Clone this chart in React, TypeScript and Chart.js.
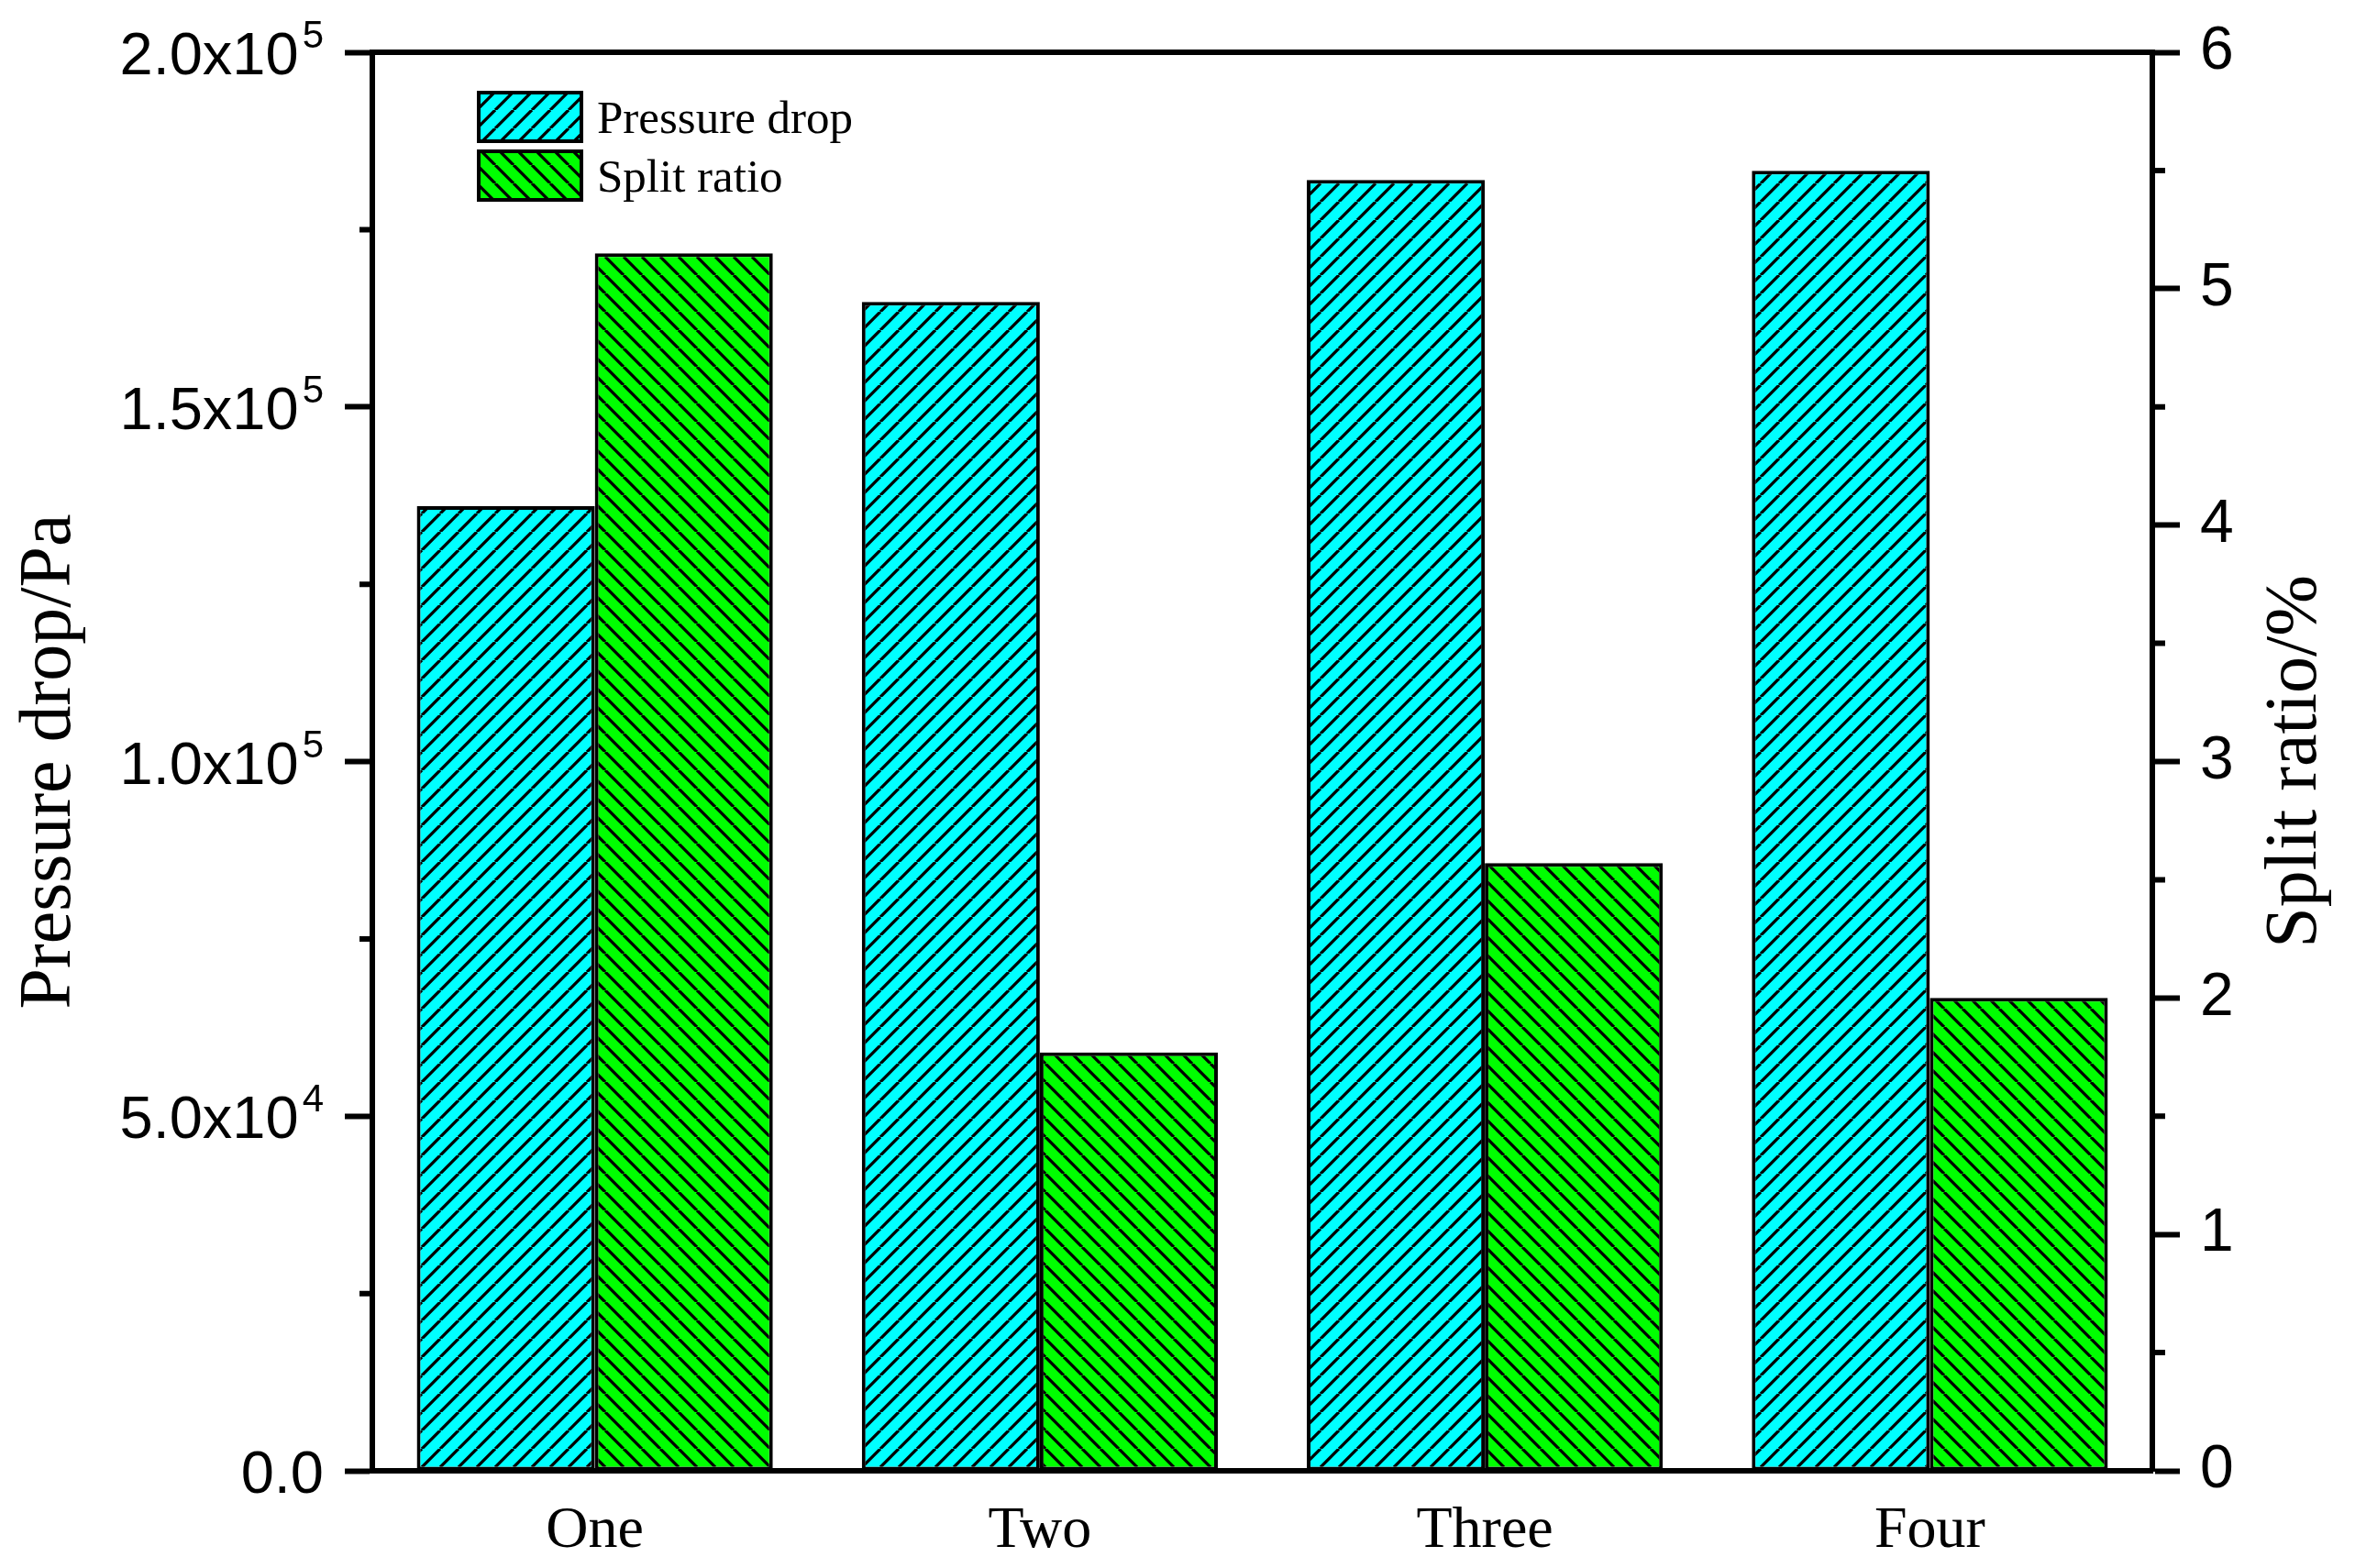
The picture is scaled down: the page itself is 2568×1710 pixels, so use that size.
import React, { useEffect, useRef } from "react";
import { Chart, registerables } from "chart.js";

Chart.register(...registerables);

const categories = ["One", "Two", "Three", "Four"];
const seriesNames = ["Pressure drop", "Split ratio"];
const pressureDrop = [136000, 164800, 182000, 183300];
const splitRatio = [5.15, 1.77, 2.57, 2.0];

const leftTickValues = [0, 50000, 100000, 150000, 200000];
const leftTickMantissa = ["0.0", "5.0", "1.0", "1.5", "2.0"];
const leftTickExponent = ["", "4", "5", "5", "5"];
const leftMinorTicks = [25000, 75000, 125000, 175000];
const rightTickLabels = ["0", "1", "2", "3", "4", "5", "6"];
const rightMinorTicks = [0.5, 1.5, 2.5, 3.5, 4.5, 5.5];
const axisTitles = ["Pressure drop/Pa", "Split ratio/%"];

const SANS = "'Liberation Sans', Arial, sans-serif";
const SERIF = "'Liberation Serif', 'Times New Roman', serif";

function makeHatch(color: string, dir: number): CanvasPattern | string {
  const s = 20;
  const c = document.createElement("canvas");
  c.width = s;
  c.height = s;
  const g = c.getContext("2d");
  if (!g) return color;
  g.fillStyle = color;
  g.fillRect(0, 0, s, s);
  g.strokeStyle = "#000";
  g.lineWidth = 3.3;
  g.beginPath();
  for (const o of [-s, 0, s]) {
    if (dir > 0) {
      g.moveTo(o, s);
      g.lineTo(o + s, 0);
    } else {
      g.moveTo(o, 0);
      g.lineTo(o + s, s);
    }
  }
  g.stroke();
  return g.createPattern(c, "repeat") || color;
}

const decorPlugin = {
  id: "decor",
  afterDraw(chart: any) {
    const ctx: CanvasRenderingContext2D = chart.ctx;
    const { left, right, top, bottom } = chart.chartArea;
    const y = chart.scales.y;
    const y1 = chart.scales.y1;
    ctx.save();
    ctx.strokeStyle = "#000";
    ctx.lineWidth = 6;
    // top frame line
    ctx.beginPath();
    ctx.moveTo(left - 3, top);
    ctx.lineTo(right + 3, top);
    ctx.stroke();
    // minor ticks
    ctx.beginPath();
    leftMinorTicks.forEach((v) => {
      const p = y.getPixelForValue(v);
      ctx.moveTo(left, p);
      ctx.lineTo(left - 14, p);
    });
    rightMinorTicks.forEach((v) => {
      const p = y1.getPixelForValue(v);
      ctx.moveTo(right, p);
      ctx.lineTo(right + 14, p);
    });
    ctx.stroke();

    // left tick labels with superscript exponents
    ctx.fillStyle = "#000";
    ctx.textBaseline = "alphabetic";
    leftTickValues.forEach((v, i) => {
      const p = y.getPixelForValue(v);
      const base = p + 24;
      const xr = left - 53;
      const exp = leftTickExponent[i];
      let expW = 0;
      ctx.font = `42px ${SANS}`;
      if (exp) expW = ctx.measureText(exp).width + 4;
      ctx.font = `65px ${SANS}`;
      ctx.textAlign = "right";
      ctx.fillText(leftTickMantissa[i] + (exp ? "x10" : ""), xr - expW, base);
      if (exp) {
        ctx.font = `42px ${SANS}`;
        ctx.textAlign = "left";
        ctx.fillText(exp, xr - expW + 4, base - 29);
      }
    });

    // axis titles (both read bottom-to-top)
    ctx.font = `80px ${SERIF}`;
    ctx.textAlign = "center";
    const cy = (top + bottom) / 2;
    ctx.save();
    ctx.translate(76, cy);
    ctx.rotate(-Math.PI / 2);
    ctx.fillText(axisTitles[0], 0, 0);
    ctx.restore();
    ctx.save();
    ctx.translate(2525, cy);
    ctx.rotate(-Math.PI / 2);
    ctx.fillText(axisTitles[1], 0, 0);
    ctx.restore();

    // legend
    chart.data.datasets.forEach((ds: any, i: number) => {
      const bx = left + 114;
      const by = top + 42 + i * 64;
      const bw = 116;
      const bh = 57;
      ctx.fillStyle = ds.backgroundColor;
      ctx.fillRect(bx, by, bw, bh);
      ctx.lineWidth = 4;
      ctx.strokeStyle = "#000";
      ctx.strokeRect(bx + 2, by + 2, bw - 4, bh - 4);
      ctx.fillStyle = "#000";
      ctx.font = `51px ${SERIF}`;
      ctx.textAlign = "left";
      ctx.fillText(ds.label, bx + 131, by + bh / 2 + 17);
    });
    ctx.restore();
  },
};

export default function App() {
  const ref = useRef<HTMLCanvasElement | null>(null);
  useEffect(() => {
    const canvas = ref.current;
    if (!canvas) return;
    const cyan = makeHatch("#00FFFF", 1);
    const green = makeHatch("#00FF00", -1);
    const axisGrid = {
      drawOnChartArea: false,
      drawTicks: true,
      tickLength: 30,
      tickWidth: 6,
      tickColor: "#000",
    };
    const border = { display: true, color: "#000", width: 6 };
    const chart = new Chart(canvas, {
      type: "bar",
      data: {
        labels: categories,
        datasets: [
          {
            label: seriesNames[0],
            data: pressureDrop,
            yAxisID: "y",
            backgroundColor: cyan as any,
            borderColor: "#000",
            borderWidth: 4,
            borderSkipped: false,
          },
          {
            label: seriesNames[1],
            data: splitRatio,
            yAxisID: "y1",
            backgroundColor: green as any,
            borderColor: "#000",
            borderWidth: 4,
            borderSkipped: false,
          },
        ],
      },
      options: {
        responsive: false,
        animation: false,
        devicePixelRatio: 1,
        layout: { padding: { top: 57, left: 0, right: 0, bottom: 0 } },
        datasets: { bar: { categoryPercentage: 0.8, barPercentage: 1.0 } },
        plugins: { legend: { display: false }, tooltip: { enabled: false } },
        scales: {
          x: {
            grid: { display: true, drawOnChartArea: false, drawTicks: false },
            border,
            ticks: { color: "#000", font: { family: SERIF, size: 64 }, padding: 28 },
            afterFit: (s: any) => {
              s.height = 106;
              s.paddingLeft = 0;
              s.paddingRight = 0;
            },
          },
          y: {
            position: "left",
            min: 0,
            max: 200000,
            ticks: { stepSize: 50000, display: false },
            grid: axisGrid,
            border,
            afterFit: (s: any) => {
              s.width = 406;
              s.paddingTop = 0;
              s.paddingBottom = 0;
            },
          },
          y1: {
            position: "right",
            min: 0,
            max: 6,
            ticks: {
              stepSize: 1,
              color: "#000",
              font: { family: SANS, size: 66 },
              padding: 22,
              callback: (_v: any, i: number) => rightTickLabels[i],
            },
            grid: axisGrid,
            border,
            afterFit: (s: any) => {
              s.width = 221;
              s.paddingTop = 0;
              s.paddingBottom = 0;
            },
          },
        },
      } as any,
      plugins: [decorPlugin],
    });
    return () => chart.destroy();
  }, []);
  return (
    <div style={{ position: "absolute", left: 0, top: 0, width: 2568, height: 1710, background: "#fff" }}>
      <canvas ref={ref} width={2568} height={1710} style={{ display: "block" }} />
    </div>
  );
}
